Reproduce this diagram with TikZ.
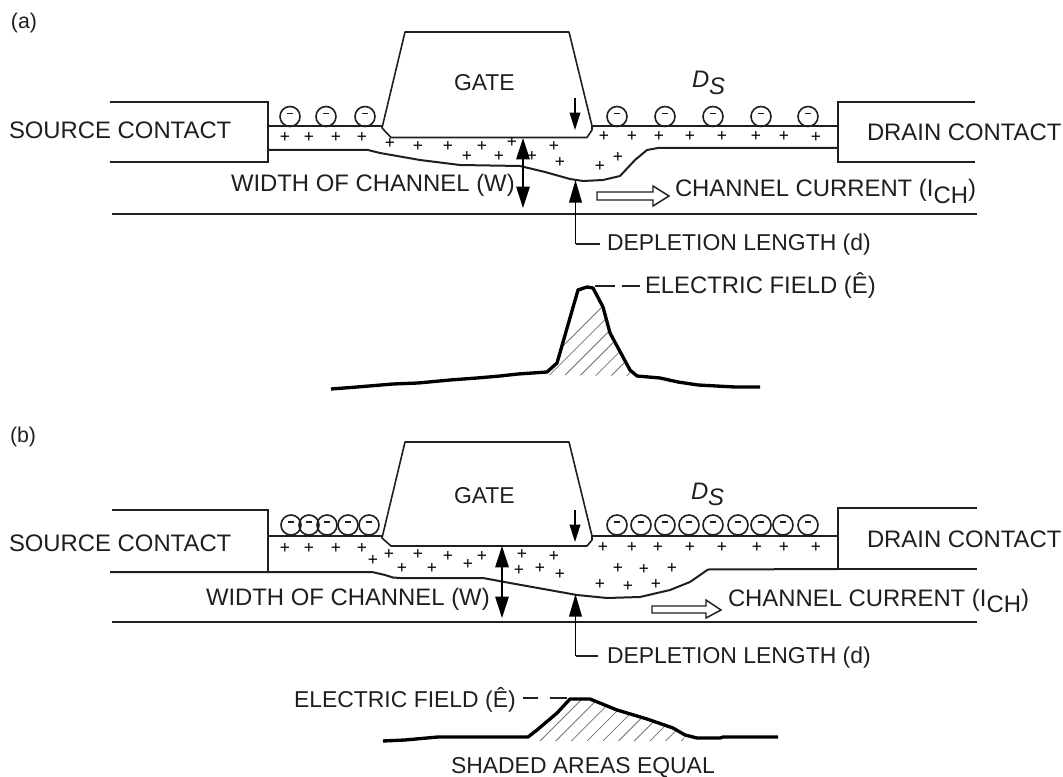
\documentclass[tikz,border=0pt]{standalone}
\usepackage{fontspec}
\setmainfont{Liberation Sans}
\usetikzlibrary{arrows.meta}
\definecolor{ink}{gray}{0.12}
\definecolor{hatchc}{gray}{0.45}
\newcommand{\Tx}[4]{\node[lab] (#1) at (#2,#3) {#4};}
\newcommand{\Sb}[1]{\raisebox{-5.2pt}{#1}}
\newcommand{\Sm}{\fontsize{17.2}{20}\selectfont}
\tikzset{
  lab/.style={anchor=base west,inner sep=0pt,outer sep=0pt,text=ink,font=\fontsize{17.9}{20}\selectfont},
  wall/.style={draw=ink,line width=1.5pt,line join=miter},
  thinwall/.style={draw=ink,line width=1.2pt,line join=round},
  field/.style={draw=black,line width=2.5pt,line join=round,line cap=butt},
  hatchline/.style={draw=hatchc,line width=0.6pt},
  plusmark/.style={inner sep=0pt,outer sep=0pt,text=black,font=\fontsize{13}{13}\selectfont},
  elec/.style={circle,draw=ink,line width=1.2pt,minimum size=15pt,inner sep=0pt,
    path picture={\draw[line width=1.2pt] ([xshift=-2.2pt,yshift=2.2pt]path picture bounding box.center) -- ([xshift=2.2pt,yshift=2.2pt]path picture bounding box.center);}},
  bigarrow/.style={draw=black,line width=1.4pt,{Triangle[length=16pt,width=10pt]}-{Triangle[length=16pt,width=10pt]}},
  uparrow/.style={draw=black,line width=1.4pt,-{Triangle[length=17pt,width=9.5pt]}},
  smallarrow/.style={draw=black,line width=1.1pt,-{Triangle[length=13pt,width=8pt]}},
  hollow/.style={draw=ink,line width=1.1pt,fill=white,line join=miter},
  leader/.style={draw=ink,line width=1.5pt},
}
\begin{document}
\begin{tikzpicture}[x=0.75pt,y=-0.75pt]
\useasboundingbox (0,0) rectangle (1063,777);
%%%%% PANEL A
\Tx{la}{11}{29}{\fontsize{16}{18}\selectfont (a)}
\draw[wall] (110,102) -- (268,102) -- (268,162) -- (110,162);
\draw[wall] (268,126) -- (382,126);
\draw[wall] (592,126) -- (838,126);
\draw[wall] (975,102) -- (838,102) -- (838,162) -- (975,162);
\draw[wall] (112,214) -- (977,214);
\draw[wall] (268,150) -- (368,150) -- (380,153) -- (420,160) -- (460,165) -- (520,166) -- (545,172) -- (570,179) -- (583,181) -- (603,180) -- (620,176) -- (635,160) -- (647,150) -- (658,148) -- (838,148);
\draw[thinwall] (382,128) -- (405,32) -- (569,32) -- (592,126) -- (592,130) -- (587,137.5) -- (391,137.5) -- cycle;
\Tx{ga}{454}{91}{\Sm GATE}
\Tx{sa}{9}{138.5}{SOURCE CONTACT}
\Tx{da}{867}{141}{DRAIN CONTACT}
\Tx{wa}{231}{192}{WIDTH OF CHANNEL (W)}
\Tx{ca}{675}{197}{CHANNEL CURRENT (I\Sb{CH})}
\Tx{dla}{607}{251}{\Sm DEPLETION LENGTH (d)}
\Tx{efa}{645}{293}{ELECTRIC FIELD (Ê)}
\Tx{dsa}{692}{88}{\itshape D\Sb{S}}
\foreach \i/\x in {1/290,2/326,3/365,4/617,5/665,6/713,7/761,8/808}
  \node[elec] (ea\i) at (\x,116.5) {};
\foreach \i/\x/\y in {1/285/138,2/309/138,3/336/138,4/362/138,5/390/144,6/418/146,7/448/146,8/482/146,9/467/156,10/499/156,11/512/143,12/532/156,13/554/146,14/560/163,15/600/166,16/618/158,17/604/136,18/632/136,19/659/136,20/690/136,21/722/136,22/756/136,23/784/136,24/816/137}
  \node[plusmark] (pa\i) at (\x,\y) {+};
\coordinate (wat) at (523,138);
\coordinate (wab) at (523,208);
\draw[bigarrow] (wat) -- (wab);
\coordinate (dat) at (575.5,180);
\coordinate (dac) at (575.5,244);
\draw[uparrow] (dac) -- (dat);
\draw[leader] (dac) -- ([xshift=-5pt]dla.west |- dac);
\coordinate (gas) at (575,98);
\coordinate (gae) at (575,130);
\draw[smallarrow] (gas) -- (gae);
\draw[hollow] (597,192) -- (653,192) -- (653,186) -- (669,196) -- (653,206) -- (653,200) -- (597,200) -- cycle;
% field a
\begin{scope}
\clip (548,375) -- (557,363) -- (578,290) -- (587,287) -- (593,288) -- (603,307) -- (610,333) -- (630,370) -- (637,376) -- cycle;
\foreach \k in {0,...,8}
  \draw[hatchline] ({533+15.6*\k},376) -- ({533+15.6*\k+100},276);
\end{scope}
\draw[field] (331,389) -- (357,387) -- (393,384) -- (418,383) -- (450,380) -- (477,378) -- (500,376) -- (518,374) -- (547,372) -- (557,363) -- (578,290) -- (587,287) -- (593,288) -- (603,307) -- (610,333) -- (630,370) -- (637,376) -- (660,378) -- (678,382) -- (698,385) -- (735,387) -- (760,387);
\draw[leader] (595,286) -- (615,286);
\draw[leader] (622,286) -- (640,286);
%%%%% PANEL B
\Tx{lb}{10}{442}{\fontsize{16}{18}\selectfont (b)}
\draw[wall] (112,510) -- (268,510) -- (268,572);
\draw[wall] (268,536) -- (382,536);
\draw[wall] (592,536) -- (838,536);
\draw[wall] (977,508) -- (838,508) -- (838,568.5) -- (977,568.5);
\draw[wall] (112,622) -- (977,622);
\draw[wall] (110,572) -- (372,572) -- (385,575) -- (393,577.5) -- (400,578) -- (483,578) -- (510,583) -- (577,595) -- (607,598) -- (640,597) -- (670,590) -- (690,582) -- (708,569.5) -- (838,569);
\draw[thinwall] (382,538) -- (405,442) -- (569,442) -- (592,536) -- (592,540) -- (587,546) -- (391,546) -- cycle;
\Tx{gb}{454}{503}{\Sm GATE}
\Tx{sb}{9}{551}{SOURCE CONTACT}
\Tx{db}{867}{547}{DRAIN CONTACT}
\Tx{wb}{206}{605}{WIDTH OF CHANNEL (W)}
\Tx{cb}{728}{606}{CHANNEL CURRENT (I\Sb{CH})}
\Tx{dlb}{607}{663}{\Sm DEPLETION LENGTH (d)}
\Tx{efb}{294}{707}{\Sm ELECTRIC FIELD (Ê)}
\Tx{dsb}{691}{499}{\itshape D\Sb{S}}
\Tx{sh}{451}{773}{\Sm SHADED AREAS EQUAL}
\foreach \i/\x in {1/291,2/309,3/327,4/348,5/369,6/617,7/641,8/665,9/689,10/713,11/738,12/761,13/783,14/808}
  \node[elec] (eb\i) at (\x,525) {};
\foreach \i/\x/\y in {1/285/548,2/309/548,3/336/548,4/362/548,5/373/560,6/389/554,7/418/554,8/448/556,9/482/556,10/468/564,11/402/568,12/432/568,13/522/554,14/554/556,15/519/570,16/540/568,17/560/574,18/603/547,19/632/547,20/658/547,21/690/547,22/722/547,23/757/547,24/784/547,25/816/547,26/618/568,27/644/569,28/672/568,29/600/584,30/628/586,31/656/584}
  \node[plusmark] (pb\i) at (\x,\y) {+};
\coordinate (wbt) at (502,546);
\coordinate (wbb) at (502,618);
\draw[bigarrow] (wbt) -- (wbb);
\coordinate (dbt) at (575.5,594);
\coordinate (dbc) at (575.5,656);
\draw[uparrow] (dbc) -- (dbt);
\draw[leader] (dbc) -- ([xshift=-6.5pt]dlb.west |- dbc);
\coordinate (gbs) at (575,510);
\coordinate (gbe) at (575,542);
\draw[smallarrow] (gbs) -- (gbe);
\draw[hollow] (652,606) -- (706,606) -- (706,600) -- (721,610) -- (706,618) -- (706,613) -- (652,613) -- cycle;
% field b
\begin{scope}
\clip (528,742) -- (528,737) -- (537,730) -- (557,713) -- (570,699) -- (590,699) -- (617,710) -- (647,719) -- (673,728) -- (685,735) -- (684,742) -- cycle;
\foreach \k in {0,...,10}
  \draw[hatchline] ({540+15.7*\k},741) -- ({540+15.7*\k+50},691);
\end{scope}
\draw[field] (383,741) -- (405,740) -- (438,737) -- (528,737) -- (537,730) -- (557,713) -- (570,699) -- (590,699) -- (617,710) -- (647,719) -- (673,728) -- (685,735) -- (697,738) -- (720,738) -- (723,737) -- (778,737);
\draw[leader] (523,698) -- (538,698);
\draw[leader] (550,698) -- (567,698);
\end{tikzpicture}
\end{document}
